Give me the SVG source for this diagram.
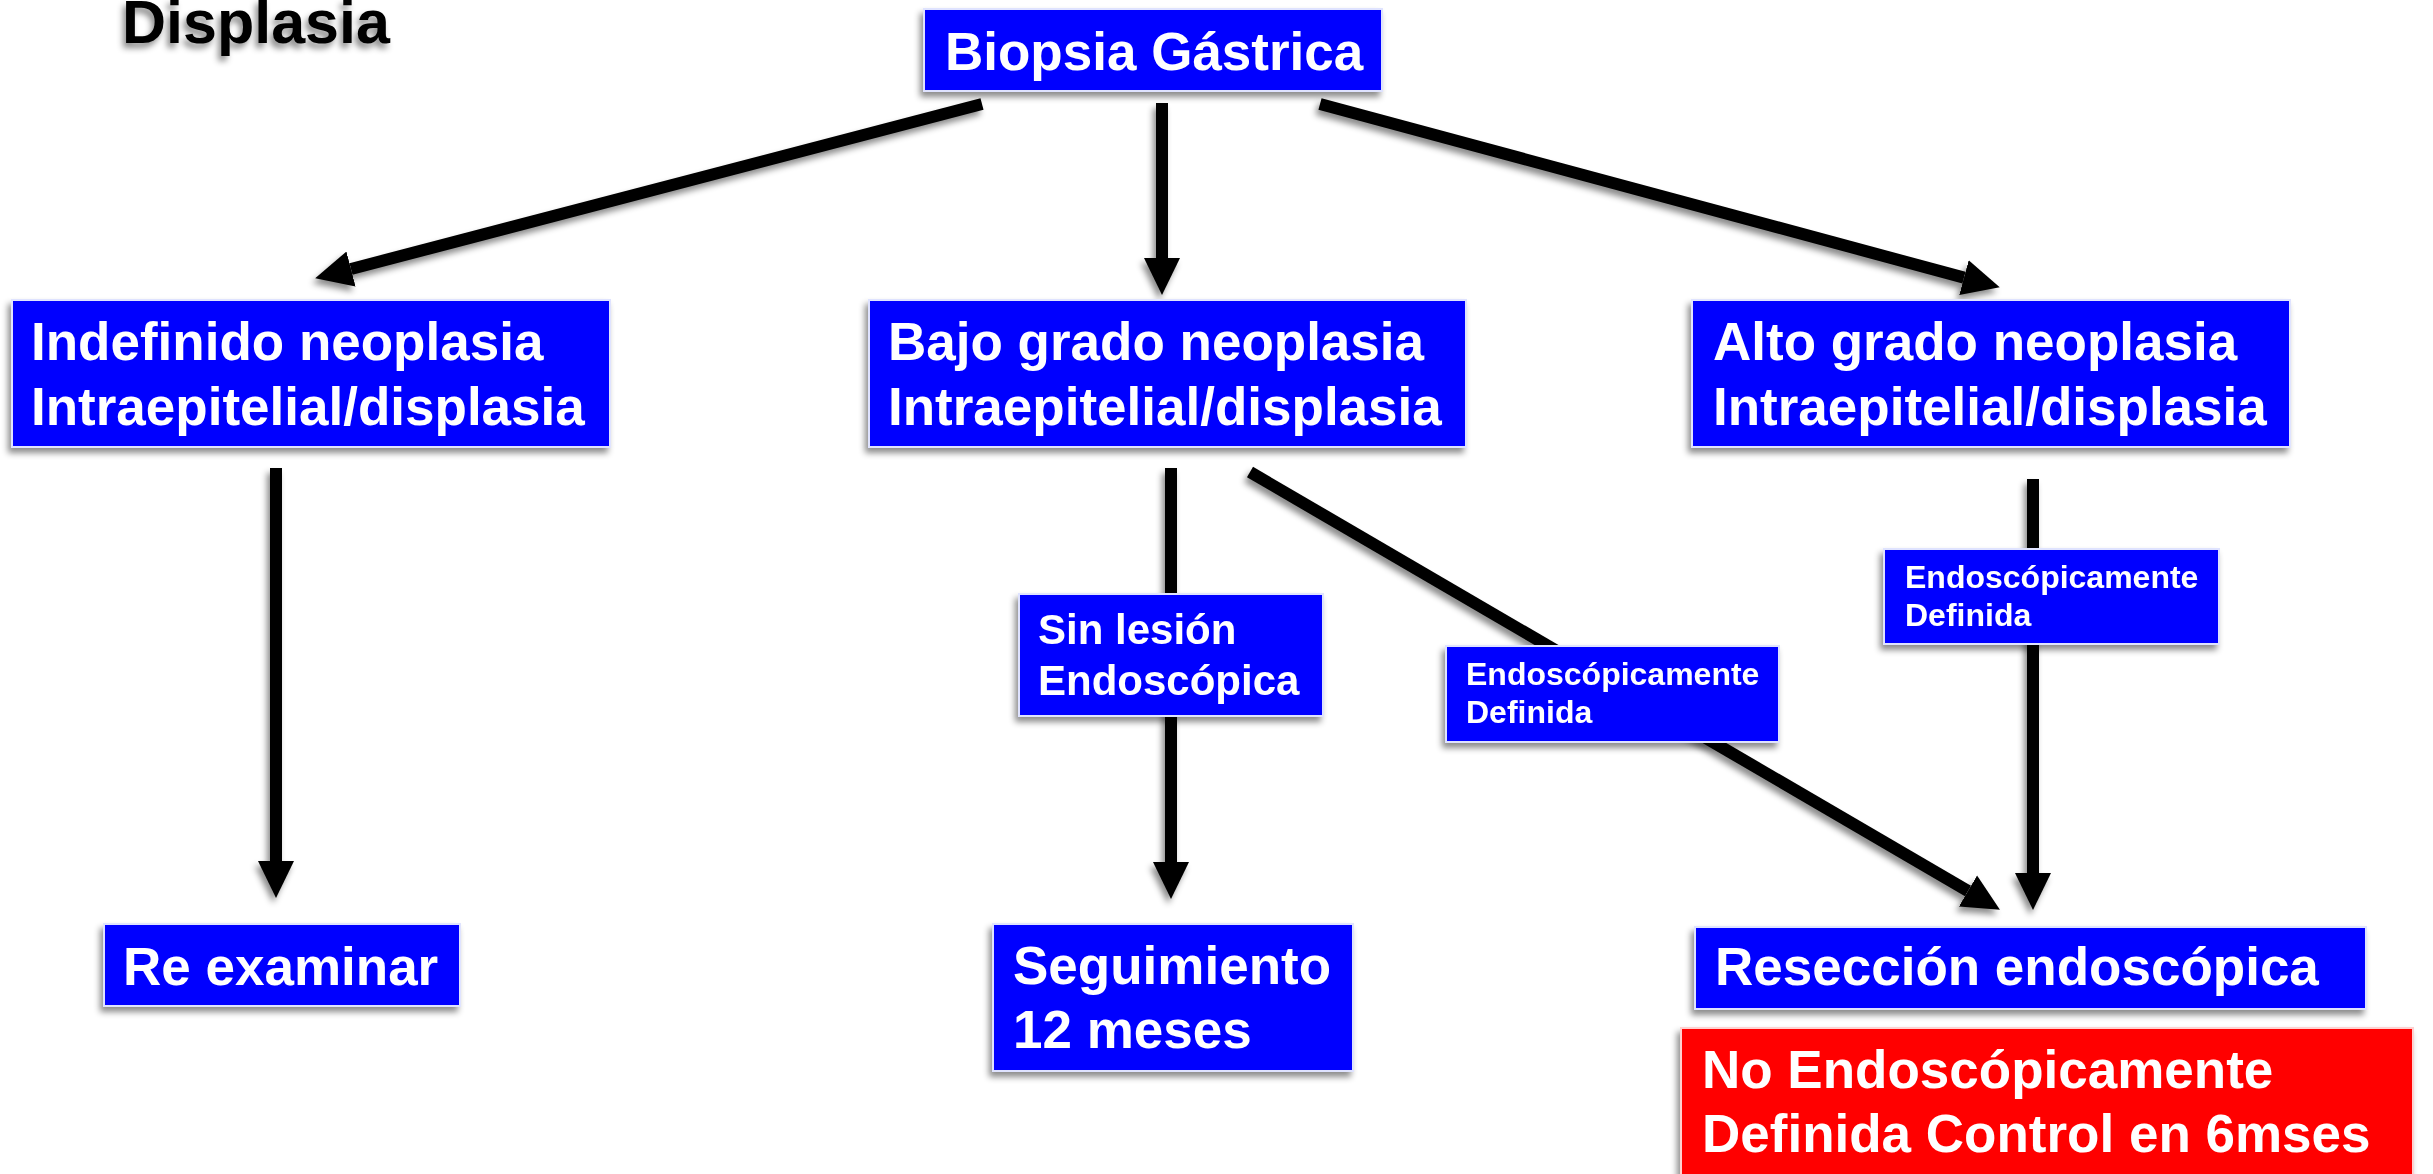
<svg xmlns="http://www.w3.org/2000/svg" width="2433" height="1174" viewBox="0 0 2433 1174">
<defs>
<filter id="sh" x="-10%" y="-10%" width="120%" height="130%">
<feDropShadow dx="-3" dy="5" stdDeviation="3" flood-color="#000" flood-opacity="0.45"/>
</filter>
<marker id="ah" markerUnits="userSpaceOnUse" markerWidth="40" markerHeight="40" viewBox="0 -20 40 40" refX="0" refY="0" orient="auto">
<path d="M0,-18 L37,0 L0,18 Z" fill="#000"/>
</marker>
<style>
.box{fill:#0000ff;stroke:#dfe3ff;stroke-width:2}
.red{fill:#ff0000;stroke:#ffd0d0;stroke-width:2}
.t{font-family:"Liberation Sans",Arial,sans-serif;font-weight:bold;fill:#fff}
.t53{font-size:53px}
.t42{font-size:42px}
.t32{font-size:32px}
.ln{stroke:#000;stroke-width:12;fill:none}
.arr{marker-end:url(#ah)}
</style>
</defs>
<rect width="2433" height="1174" fill="#fff"/>
<text x="122" y="43" font-family="Liberation Sans,Arial,sans-serif" font-weight="bold" font-size="61" fill="#000" filter="url(#sh)">Displasia</text>
<g id="connectors" filter="url(#sh)">
<line class="ln arr" x1="982" y1="104" x2="351" y2="269"/>
<line class="ln arr" x1="1162" y1="103" x2="1162" y2="258"/>
<line class="ln arr" x1="1320" y1="104" x2="1964" y2="277.6"/>
<line class="ln arr" x1="276" y1="468" x2="276" y2="861"/>
<line class="ln arr" x1="1171" y1="468" x2="1171" y2="862"/>
<line class="ln arr" x1="1250" y1="472" x2="1968" y2="891"/>
<line class="ln arr" x1="2033" y1="479" x2="2033" y2="873"/>
</g>
<g id="biopsia" filter="url(#sh)">
<rect class="box" x="924" y="9" width="458" height="82"/>
<text class="t t53" x="945" y="70">Biopsia Gástrica</text>
</g>
<g id="indefinido" filter="url(#sh)">
<rect class="box" x="12" y="300" width="598" height="147"/>
<text class="t t53" x="31" y="360">Indefinido neoplasia</text>
<text class="t t53" x="31" y="425">Intraepitelial/displasia</text>
</g>
<g id="bajo" filter="url(#sh)">
<rect class="box" x="869" y="300" width="597" height="147"/>
<text class="t t53" x="888" y="360">Bajo grado neoplasia</text>
<text class="t t53" x="888" y="425">Intraepitelial/displasia</text>
</g>
<g id="alto" filter="url(#sh)">
<rect class="box" x="1692" y="300" width="598" height="147"/>
<text class="t t53" x="1713" y="360">Alto grado neoplasia</text>
<text class="t t53" x="1713" y="425">Intraepitelial/displasia</text>
</g>
<g id="sinlesion" filter="url(#sh)">
<rect class="box" x="1019" y="594" width="304" height="122"/>
<text class="t t42" x="1038" y="644">Sin lesión</text>
<text class="t t42" x="1038" y="695">Endoscópica</text>
</g>
<g id="endo1" filter="url(#sh)">
<rect class="box" x="1446" y="646" width="333" height="96"/>
<text class="t t32" x="1466" y="685">Endoscópicamente</text>
<text class="t t32" x="1466" y="723">Definida</text>
</g>
<g id="endo2" filter="url(#sh)">
<rect class="box" x="1884" y="549" width="335" height="95"/>
<text class="t t32" x="1905" y="588">Endoscópicamente</text>
<text class="t t32" x="1905" y="626">Definida</text>
</g>
<g id="reexaminar" filter="url(#sh)">
<rect class="box" x="104" y="924" width="356" height="82"/>
<text class="t t53" x="123" y="985">Re examinar</text>
</g>
<g id="seguimiento" filter="url(#sh)">
<rect class="box" x="993" y="924" width="360" height="147"/>
<text class="t t53" x="1013" y="984">Seguimiento</text>
<text class="t t53" x="1013" y="1048">12 meses</text>
</g>
<g id="reseccion" filter="url(#sh)">
<rect class="box" x="1695" y="927" width="671" height="82"/>
<text class="t t53" x="1715" y="985">Resección endoscópica</text>
</g>
<g id="noendo" filter="url(#sh)">
<rect class="red" x="1681" y="1028" width="732" height="170"/>
<text class="t t53" x="1702" y="1088">No Endoscópicamente</text>
<text class="t t53" x="1702" y="1152">Definida Control en 6mses</text>
</g>
</svg>
